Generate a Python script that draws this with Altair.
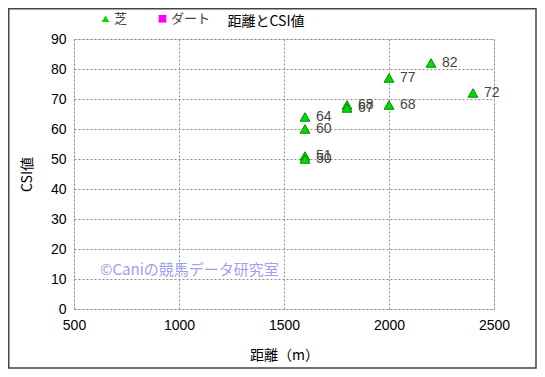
import altair as alt
import pandas as pd

distance = [1600, 1600, 1600, 1600, 1800, 1800, 2000, 2000, 2200, 2400]
csi = [64, 60, 51, 50, 68, 67, 77, 68, 82, 72]
surface = ["芝"] * len(distance)
series_names = ["芝", "ダート"]
series_colors = ["#00dd00", "#ff00ff"]
series_shapes = ["triangle-up", "square"]
x_ticks = [500, 1000, 1500, 2000, 2500]
y_ticks = [0, 10, 20, 30, 40, 50, 60, 70, 80, 90]

df = pd.DataFrame({"distance": distance, "csi": csi, "surface": surface})

W, H = 420, 270
font = "Liberation Sans"
jp = "Noto Sans CJK JP"

x = alt.X("distance:Q", scale=alt.Scale(domain=[500, 2500], nice=False),
          axis=alt.Axis(values=x_ticks, format="d", title="距離（m）", titleFont=jp, titleFontSize=14,
                        titleFontWeight="normal", titleColor="#000", titlePadding=16,
                        labelFont=font, labelFontSize=14, labelColor="#000",
                        labelPadding=9, tickSize=0, domain=False, labelOverlap=False,
                        grid=True, gridColor="#8c8c8c", gridDash=[2, 2], labelFlush=False))
y = alt.Y("csi:Q", scale=alt.Scale(domain=[0, 90], nice=False),
          axis=alt.Axis(values=y_ticks, format="d", title="CSI値", titleFont=jp, titleFontSize=14,
                        titleFontWeight="normal", titleColor="#000", titlePadding=16,
                        labelFont=font, labelFontSize=14, labelColor="#000",
                        labelPadding=8, tickSize=0, domain=False, labelOverlap=False,
                        grid=True, gridColor="#8c8c8c", gridDash=[2, 2]))

points = alt.Chart(df).mark_point(filled=True, size=95, strokeWidth=1, opacity=1).encode(
    x=x, y=y,
    color=alt.Color("surface:N", scale=alt.Scale(domain=series_names, range=series_colors),
                    legend=alt.Legend(title=None, orient="none", direction="horizontal",
                                      legendX=25, legendY=-27, labelFont=jp, labelFontSize=13,
                                      labelColor="#444", columnPadding=28, symbolSize=60,
                                      labelOffset=2, symbolStrokeWidth=0)),
    shape=alt.Shape("surface:N", scale=alt.Scale(domain=series_names, range=series_shapes)),
    stroke=alt.value("#008800"),
)

labels = alt.Chart(df).mark_text(align="left", baseline="middle", dx=11, font=font,
                                 fontSize=14, color="#444444").encode(
    x=x, y=y, text="csi:Q")

watermark = alt.Chart(pd.DataFrame({"t": ["©Caniの競馬データ研究室"]})).mark_text(
    align="left", baseline="middle", font=jp, fontSize=15, color="#a0a0f0").encode(
    x=alt.value(26), y=alt.value(231), text="t:N")

title = alt.Chart(pd.DataFrame({"t": ["距離とCSI値"]})).mark_text(
    align="center", baseline="middle", font=jp, fontSize=14, color="#000").encode(
    x=alt.value(192), y=alt.value(-17), text="t:N")

border = alt.Chart(pd.DataFrame({"a": [0]})).mark_rect(
    fill=None, stroke="#444444", strokeWidth=1.5).encode(
    x=alt.value(-65.25), x2=alt.value(462), y=alt.value(-30.25), y2=alt.value(329))

chart = alt.layer(border, points, labels, watermark, title).properties(
    width=W, height=H,
    autosize=alt.AutoSizeParams(type="none"),
    padding={"left": 66, "top": 31, "right": 43, "bottom": 60},
).configure_view(stroke="#555555", strokeWidth=1.5).configure(background="white")

chart.save("out.html", embed_options={"renderer": "svg", "actions": False})
